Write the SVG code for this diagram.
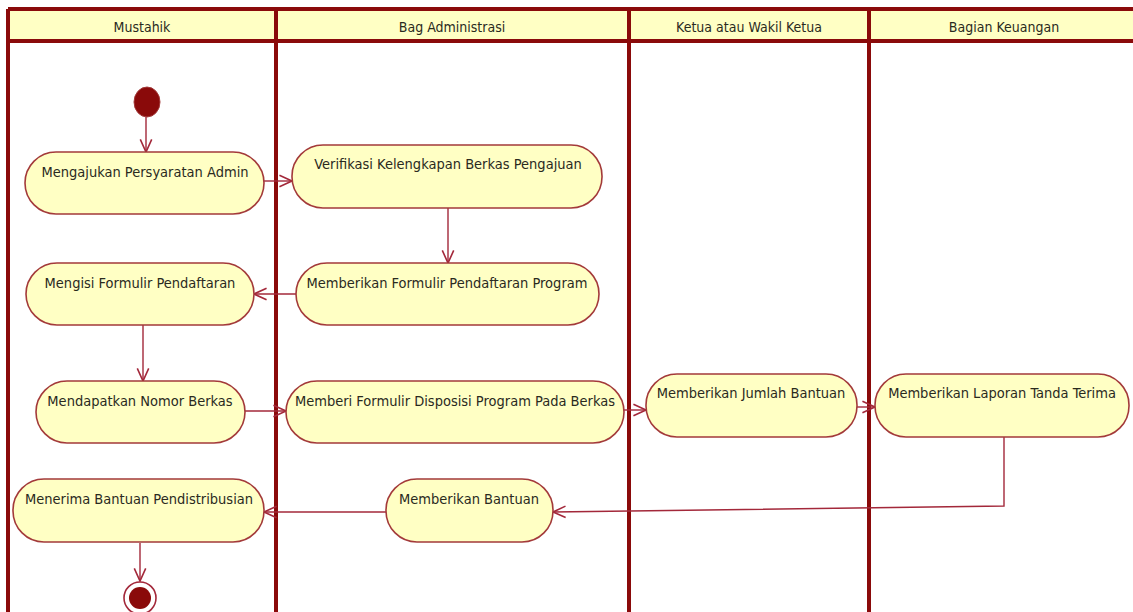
<svg xmlns="http://www.w3.org/2000/svg" width="1133" height="612" viewBox="0 0 1133 612">
<style>
.lane{fill:none;stroke:#8a0a0a;stroke-width:4}
.hdr{fill:#ffffc4}
.ht{font-family:"DejaVu Sans Condensed","DejaVu Sans",sans-serif;font-size:14px;fill:#2a2a1e;text-anchor:middle}
.act rect{fill:#ffffc4;stroke:#a33a3a;stroke-width:1.6}
.act text{font-family:"DejaVu Sans Condensed","DejaVu Sans",sans-serif;font-size:14.5px;fill:#2a2a1e;text-anchor:middle}
.con{fill:none;stroke:#a3283a;stroke-width:1.4;marker-end:url(#arr)}
</style>
<defs>
<marker id="arr" markerUnits="userSpaceOnUse" markerWidth="16" markerHeight="16" refX="12" refY="6" orient="auto" viewBox="0 0 14 12">
<path d="M1,1 L12,6 L1,11" fill="none" stroke="#a3283a" stroke-width="1.4"/>
</marker>
</defs>
<rect width="1133" height="612" fill="#ffffff"/>
<g id="lanes">
<rect class="hdr" x="8" y="9" width="1140" height="32"/>
<line class="lane" x1="8" y1="9" x2="1140" y2="9"/>
<line class="lane" x1="8" y1="41" x2="1140" y2="41"/>
<line class="lane" x1="8" y1="9" x2="8" y2="620"/>
<line class="lane" x1="276" y1="9" x2="276" y2="620"/>
<line class="lane" x1="629" y1="9" x2="629" y2="620"/>
<line class="lane" x1="869" y1="9" x2="869" y2="620"/>
<text class="ht" x="142" y="32">Mustahik</text>
<text class="ht" x="452" y="32">Bag Administrasi</text>
<text class="ht" x="749" y="32">Ketua atau Wakil Ketua</text>
<text class="ht" x="1004" y="32">Bagian Keuangan</text>
</g>
<g id="connectors">
<line class="con" x1="146" y1="117" x2="146" y2="152"/>
<line class="con" x1="264" y1="181" x2="292" y2="181"/>
<line class="con" x1="448" y1="208" x2="448" y2="263"/>
<line class="con" x1="296" y1="294" x2="254" y2="294"/>
<line class="con" x1="143" y1="325" x2="143" y2="381"/>
<line class="con" x1="245" y1="411" x2="286" y2="411"/>
<line class="con" x1="624" y1="410" x2="646" y2="410"/>
<line class="con" x1="857" y1="407" x2="875" y2="407"/>
<polyline class="con" points="1004,437 1004,506 553,512"/>
<line class="con" x1="386" y1="512" x2="264" y2="512"/>
<line class="con" x1="140" y1="543" x2="140" y2="581"/>
</g>
<g id="start"><ellipse cx="147" cy="102" rx="13" ry="15" fill="#8a0a0a" stroke="#a33a3a" stroke-width="1"/></g>
<g id="a1" class="act"><rect x="25" y="152" width="239" height="62" rx="31"/><text x="145" y="177">Mengajukan Persyaratan Admin</text></g>
<g id="b1" class="act"><rect x="292" y="145" width="310" height="63" rx="31"/><text x="448" y="169">Verifikasi Kelengkapan Berkas Pengajuan</text></g>
<g id="b2" class="act"><rect x="296" y="263" width="303" height="62" rx="31"/><text x="447" y="288">Memberikan Formulir Pendaftaran Program</text></g>
<g id="a2" class="act"><rect x="26" y="263" width="228" height="62" rx="31"/><text x="140" y="288">Mengisi Formulir Pendaftaran</text></g>
<g id="a3" class="act"><rect x="36" y="381" width="209" height="62" rx="31"/><text x="140" y="406">Mendapatkan Nomor Berkas</text></g>
<g id="b3" class="act"><rect x="286" y="381" width="338" height="62" rx="31"/><text x="455" y="406">Memberi Formulir Disposisi Program Pada Berkas</text></g>
<g id="c1" class="act"><rect x="646" y="374" width="211" height="63" rx="31"/><text x="751" y="398">Memberikan Jumlah Bantuan</text></g>
<g id="d1" class="act"><rect x="875" y="374" width="254" height="63" rx="31"/><text x="1002" y="398">Memberikan Laporan Tanda Terima</text></g>
<g id="b4" class="act"><rect x="386" y="479" width="167" height="63" rx="31"/><text x="469" y="504">Memberikan Bantuan</text></g>
<g id="a4" class="act"><rect x="13" y="479" width="251" height="63" rx="31"/><text x="139" y="504">Menerima Bantuan Pendistribusian</text></g>
<g id="end"><circle cx="140" cy="598" r="16" fill="#ffffff" stroke="#a3283a" stroke-width="1.6"/><circle cx="140" cy="598" r="11" fill="#8a0a0a"/></g>
</svg>
